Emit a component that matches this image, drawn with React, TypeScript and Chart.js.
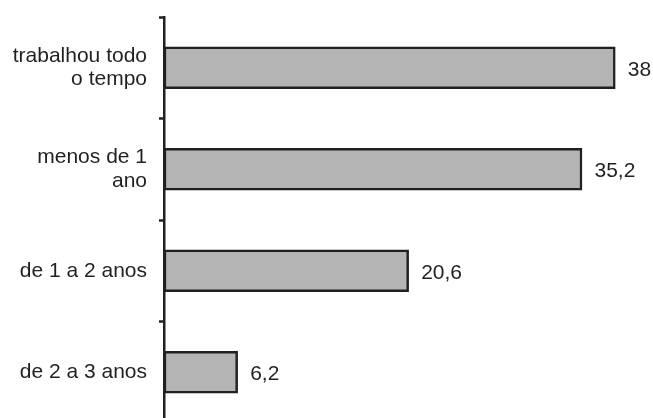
import React, { useEffect, useRef } from "react";
import { Chart, registerables } from "chart.js";

Chart.register(...registerables);

const categories: string[][] = [
  ["trabalhou todo", "o tempo"],
  ["menos de 1", "ano"],
  ["de 1 a 2 anos"],
  ["de 2 a 3 anos"],
];
const values: number[] = [38, 35.2, 20.6, 6.2];
const valueLabels: string[] = ["38", "35,2", "20,6", "6,2"];

const INK = "#231f20";
const FONT = "'Liberation Sans', Arial, sans-serif";

const valueLabelPlugin = {
  id: "valueLabels",
  afterDatasetsDraw(chart: any) {
    const ctx = chart.ctx;
    const meta = chart.getDatasetMeta(0);
    ctx.save();
    ctx.fillStyle = INK;
    ctx.font = `21px ${FONT}`;
    ctx.textAlign = "left";
    ctx.textBaseline = "middle";
    meta.data.forEach((bar: any, i: number) => {
      ctx.fillText(valueLabels[i], bar.x + 12.5, bar.y + 2);
    });
    ctx.restore();
  },
};

export default function App() {
  const ref = useRef<HTMLCanvasElement | null>(null);

  useEffect(() => {
    document.body.style.margin = "0";
    document.body.style.overflow = "hidden";
    const canvas = ref.current!;
    const chart = new Chart(canvas, {
      type: "bar",
      data: {
        labels: categories,
        datasets: [
          {
            data: values,
            backgroundColor: "#b4b4b4",
            borderColor: INK,
            borderWidth: 2.5,
            borderSkipped: false,
            barThickness: 42,
          },
        ],
      },
      options: {
        indexAxis: "y",
        animation: false,
        responsive: false,
        maintainAspectRatio: false,
        devicePixelRatio: 1,
        layout: { padding: { top: 17, bottom: 7, right: 14, left: 0 } },
        plugins: {
          legend: { display: false },
          tooltip: { enabled: false },
          title: { display: false },
        },
        scales: {
          x: {
            display: false,
            min: 0,
            max: 40,
          },
          y: {
            afterFit(scale: any) {
              scale.width = 164;
              scale.paddingTop = 0;
              scale.paddingBottom = 0;
            },
            border: { display: true, color: INK, width: 2.5 },
            grid: {
              display: true,
              drawOnChartArea: false,
              drawTicks: true,
              tickLength: 5,
              tickWidth: 2.5,
              tickColor: INK,
              offset: true,
            },
            ticks: {
              color: INK,
              padding: 12,
              font: { family: FONT, size: 21, lineHeight: 1.1 },
            },
          },
        },
      },
      plugins: [valueLabelPlugin],
    });
    return () => chart.destroy();
  }, []);

  return (
    <div
      style={{
        position: "fixed",
        left: 0,
        top: 0,
        width: 653,
        height: 418,
        overflow: "hidden",
        background: "#ffffff",
      }}
    >
      <canvas ref={ref} width={653} height={430} style={{ display: "block" }} />
    </div>
  );
}
